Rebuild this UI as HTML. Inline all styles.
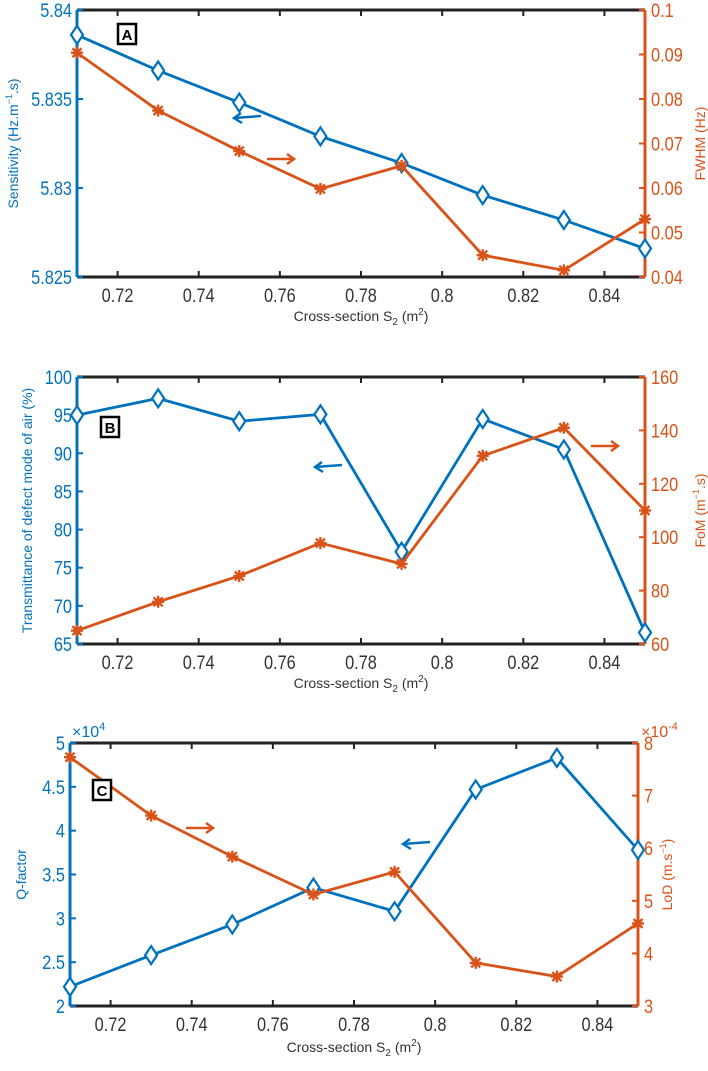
<!DOCTYPE html>
<html><head><meta charset="utf-8"><style>
body{margin:0;background:#fff}
svg text{font-family:"Liberation Sans",sans-serif}
</style></head><body>
<svg id="fig" width="708" height="1066" xmlns="http://www.w3.org/2000/svg"></svg>
<script>
const categories=[0.71,0.73,0.75,0.77,0.79,0.81,0.83,0.85];
const xTicks=[0.72,0.74,0.76,0.78,0.8,0.82,0.84];
const sensitivity=[5.8386,5.8366,5.8348,5.8329,5.8314,5.8296,5.8282,5.8266];
const fwhm=[0.0904,0.0774,0.0683,0.0598,0.0650,0.0449,0.0415,0.0530];
const transmittance=[95,97.2,94.2,95.1,77.1,94.5,90.5,66.5];
const fom=[65,75.8,85.5,97.8,90,130.5,141,110];
const qfactor=[2.22,2.58,2.93,3.35,3.08,4.47,4.83,3.78];
const lod=[7.73,6.62,5.84,5.12,5.55,3.82,3.56,4.57];
const ticksSens=["5.825","5.83","5.835","5.84"];
const ticksFwhm=["0.04","0.05","0.06","0.07","0.08","0.09","0.1"];
const ticksTrans=["65","70","75","80","85","90","95","100"];
const ticksFom=["60","80","100","120","140","160"];
const ticksQ=["2","2.5","3","3.5","4","4.5","5"];
const ticksLod=["3","4","5","6","7","8"];

const NS="http://www.w3.org/2000/svg";
const svg=document.getElementById('fig');
const BLUE="#0072BD",OR="#D95319";
function el(t,a,p){const e=document.createElementNS(NS,t);for(const k in a)e.setAttribute(k,a[k]);(p||svg).appendChild(e);return e;}
function txt(s,a,p){const e=el('text',a,p);e.innerHTML=s;return e;}

function panel(cfg){
  const g=el('g',{});
  
  
  const {L,R,T,B}=cfg;
  const xs=v=>L+(v-0.71)/(0.14)*(R-L);
  const yl=v=>B-(v-cfg.lmin)/(cfg.lmax-cfg.lmin)*(B-T);
  const yr=v=>B-(v-cfg.rmin)/(cfg.rmax-cfg.rmin)*(B-T);
  el('line',{x1:L,y1:T,x2:R,y2:T,stroke:'#222','stroke-width':3},g);
  el('line',{x1:L,y1:B,x2:R,y2:B,stroke:'#222','stroke-width':3},g);
  el('line',{x1:L,y1:T,x2:L,y2:B,stroke:BLUE,'stroke-width':3},g);
  el('line',{x1:R,y1:T,x2:R,y2:B,stroke:OR,'stroke-width':3},g);
  xTicks.forEach(v=>{const x=xs(v);
    el('line',{x1:x,y1:B,x2:x,y2:B-6,stroke:'#222','stroke-width':2},g);
    el('line',{x1:x,y1:T,x2:x,y2:T+6,stroke:'#222','stroke-width':2},g);
    const t=txt(String(v),{x:x,y:B+25,'text-anchor':'middle','font-size':19,fill:'#333',transform:`translate(${x},0) scale(0.86,1) translate(${-x},0)`},g);
    
  });
  cfg.lt.forEach(s=>{const y=yl(parseFloat(s));
    el('line',{x1:L,y1:y,x2:L+6,y2:y,stroke:BLUE,'stroke-width':2},g);
    const t=txt(s,{x:L-5,y:y+7,'text-anchor':'end','font-size':19,fill:BLUE,transform:`translate(${L-5},0) scale(0.86,1) translate(${-(L-5)},0)`},g);
    
  });
  cfg.rt.forEach(s=>{const y=yr(parseFloat(s));
    el('line',{x1:R,y1:y,x2:R-6,y2:y,stroke:OR,'stroke-width':2},g);
    const t=txt(s,{x:R+6,y:y+7,'font-size':19,fill:OR,transform:`translate(${R+6},0) scale(0.86,1) translate(${-(R+6)},0)`},g);
    
  });
  const pb=categories.map((c,i)=>xs(c)+','+yl(cfg.left[i])).join(' ');
  const lb=el('polyline',{points:pb,fill:'none',stroke:BLUE,'stroke-width':2.8},g);
  
  const po=categories.map((c,i)=>xs(c)+','+yr(cfg.right[i])).join(' ');
  const lo=el('polyline',{points:po,fill:'none',stroke:OR,'stroke-width':2.8},g);
  
  categories.forEach((c,i)=>{
    const x=xs(c),y=yl(cfg.left[i]);
    const d=el('polygon',{points:`${x},${y-9} ${x+6},${y} ${x},${y+9} ${x-6},${y}`,fill:'#fff',stroke:BLUE,'stroke-width':2.2},g);
    
    const y2=yr(cfg.right[i]);
    const m=el('g',{stroke:OR,'stroke-width':2.4},g);
    
    el('line',{x1:x-6,y1:y2,x2:x+6,y2:y2},m);el('line',{x1:x,y1:y2-6,x2:x,y2:y2+6},m);
    el('line',{x1:x-4.5,y1:y2-4.5,x2:x+4.5,y2:y2+4.5},m);el('line',{x1:x-4.5,y1:y2+4.5,x2:x+4.5,y2:y2-4.5},m);
  });
  const xt=txt('Cross-section S<tspan font-size="10" dy="4">2</tspan><tspan dy="-4"> (m</tspan><tspan font-size="10" dy="-6">2</tspan><tspan dy="6">)</tspan>',{x:(L+R)/2,y:B+cfg.xty,'text-anchor':'middle','font-size':14,fill:'#333'},g);
  
  const cy=(T+B)/2;
  const lt=txt(cfg.ltitle,{x:cfg.ltx,y:cy,'text-anchor':'middle','font-size':14,fill:BLUE,transform:`rotate(-90 ${cfg.ltx} ${cy})`},g);
  
  const rt=txt(cfg.rtitle,{x:cfg.rtx,y:cy,'text-anchor':'middle','font-size':14,fill:OR,transform:`rotate(-90 ${cfg.rtx} ${cy})`},g);
  
  const [bx,by]=cfg.box;
  el('rect',{x:bx,y:by,width:18,height:20,fill:'#fff',stroke:'#000','stroke-width':2.5},g);
  const bl=txt(cfg.letter,{x:bx+9,y:by+16,'text-anchor':'middle','font-size':15,'font-weight':'bold'},g);
  
  const [ax,ay]=cfg.barrow;
  const a1=el('g',{stroke:BLUE,'stroke-width':2.5,fill:'none'},g);
  
  el('line',{x1:ax,y1:ay,x2:ax+27,y2:ay-2},a1);el('polyline',{points:`${ax+7},${ay-5} ${ax},${ay} ${ax+8},${ay+5}`},a1);
  const [ox,oy]=cfg.oarrow;
  const a2=el('g',{stroke:OR,'stroke-width':2.5,fill:'none'},g);
  
  el('line',{x1:ox,y1:oy,x2:ox+27,y2:oy},a2);el('polyline',{points:`${ox+20},${oy-5} ${ox+27},${oy} ${ox+20},${oy+5}`},a2);
  return g;
}
panel({name:'panel-a',L:77,R:645,T:10,B:277,lmin:5.825,lmax:5.84,rmin:0.04,rmax:0.1,left:sensitivity,right:fwhm,lt:ticksSens,rt:ticksFwhm,
  ltitle:'Sensitivity (Hz.m<tspan font-size="9" dy="-6">−1</tspan><tspan dy="6">.s)</tspan>',rtitle:'FWHM (Hz)',ltx:18,rtx:705,xty:44,letter:'A',box:[118,24],barrow:[234,118],oarrow:[267,159]});
panel({name:'panel-b',L:77,R:645,T:377,B:644,lmin:65,lmax:100,rmin:60,rmax:160,left:transmittance,right:fom,lt:ticksTrans,rt:ticksFom,
  ltitle:'Transmittance of defect mode of air (%)',rtitle:'FoM (m<tspan font-size="9" dy="-6">−1</tspan><tspan dy="6">.s)</tspan>',ltx:32,rtx:705,xty:44,letter:'B',box:[101,417],barrow:[315,467],oarrow:[591,446]});
panel({name:'panel-c',L:70,R:638,T:743,B:1006,lmin:2,lmax:5,rmin:3,rmax:8,left:qfactor,right:lod,lt:ticksQ,rt:ticksLod,
  ltitle:'Q-factor',rtitle:'LoD (m.s<tspan font-size="9" dy="-6">−1</tspan><tspan dy="6">)</tspan>',ltx:26,rtx:672,xty:46,letter:'C',box:[93,780],barrow:[403,844],oarrow:[186,828]});
const e1=txt('×10<tspan font-size="11" dy="-7">4</tspan>',{x:72,y:737,'font-size':16,fill:BLUE});

const e2=txt('×10<tspan font-size="11" dy="-7">-4</tspan>',{x:641,y:737,'font-size':16,fill:OR});

</script>
</body></html>
